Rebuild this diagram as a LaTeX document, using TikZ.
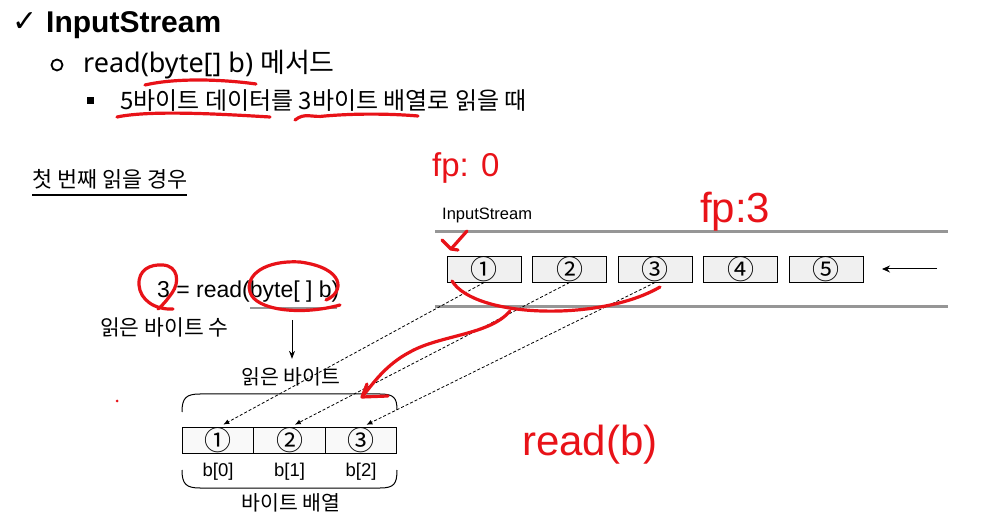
\documentclass[tikz,border=0pt]{standalone}
\usepackage{fontspec}
\setmainfont{Noto Sans}
\newfontfamily\kr{Noto Sans CJK KR}
\newfontfamily\ar{Liberation Sans}
\newfontfamily\dv{DejaVu Sans}
\usetikzlibrary{arrows.meta,positioning}
\definecolor{pen}{RGB}{232,18,24}
\definecolor{rail}{RGB}{150,150,150}
\begin{document}
\begin{tikzpicture}[x=1pt,y=-1pt,
    txt/.style={inner sep=0pt,anchor=base west},
    mid/.style={inner sep=0pt,anchor=base},
    sbox/.style={draw,line width=0.9pt,fill=gray!12,minimum width=74pt,minimum height=25pt,inner sep=0pt,font=\kr\fontsize{27}{27}\selectfont},
    cell/.style={draw,line width=0.9pt,fill=gray!5,minimum width=71.5pt,minimum height=25pt,inner sep=0pt,font=\kr\fontsize{27}{27}\selectfont},
    hand/.style={pen,line width=3.2pt,line cap=round,line join=round},
    copyline/.style={densely dashed,line width=0.8pt,-{Latex[length=6pt,width=5pt]},shorten >=6pt}]
    \useasboundingbox (0,0) rectangle (994,521);
    \node[txt,font=\dv\bfseries\fontsize{30}{30}\selectfont] (chk) at (12,32) {✓};
    \node[txt,font=\ar\bfseries\fontsize{30}{30}\selectfont] (title) at (46,33) {InputStream};
    \draw[line width=1.8pt] (57,65) circle (5.5);
    \node[txt,font=\fontsize{27}{27}\selectfont] (meth) at (83,73) {read(byte[] b) {\kr 메서드}};
    \fill (87,97) rectangle (94,104);
    \node[txt,font=\kr\fontsize{24}{24}\selectfont] (sub) at (120,110) {5바이트 데이터를 3바이트 배열로 읽을 때};
    \node[txt,font=\kr\fontsize{21.8}{22}\selectfont] (case) at (32,188) {첫 번째 읽을 경우};
    \draw[line width=1.3pt] ([yshift=-7pt]case.base west) -- ([yshift=-7pt]case.base east);
    \node[txt,font=\ar\fontsize{16.5}{17}\selectfont] (stname) at (442,220) {InputStream};
    \draw[rail,line width=3pt] (435,232) -- (948,232);
    \draw[rail,line width=3pt] (435,307) -- (948,307);
    \foreach \i/\d in {1/①,2/②,3/③,4/④,5/⑤}
        \node[sbox] (s\i) at ({398.5+85.5*\i},269.5) {\d};
    \coordinate (feedR) at (937,269);
    \coordinate (feedL) at (882,269);
    \draw[line width=1pt,-{Stealth[length=8pt,width=7pt]}] (feedR) -- (feedL);
    \node[txt,font=\ar\fontsize{23}{23}\selectfont] (call) at (157,298) {3 = read(byte[ ] b)};
    \draw[rail,line width=2.5pt] (250,308) -- (337,308);
    \node[txt,font=\kr\fontsize{21.5}{22}\selectfont] (nread) at (100,336) {읽은 바이트 수};
    \node[mid,font=\kr\fontsize{20.5}{21}\selectfont] (rbytes) at (291,385) {읽은 바이트};
    \coordinate (callarg) at (292,320);
    \draw[line width=1pt,-{Stealth[length=8pt,width=6pt]},shorten >=9pt] (callarg) -- (rbytes.north -| callarg);
    \draw[line width=1pt] (182,412) .. controls (182,398) and (186,394) .. (200,394) -- (380,394) .. controls (394,394) and (397,398) .. (397,410);
    \foreach \i/\d/\x in {1/①/218,2/②/289.5,3/③/361}
        \node[cell] (c\i) at (\x,440.5) {\d};
    \foreach \i/\x in {0/218,1/289.5,2/361}
        \node[mid,font=\ar\fontsize{18.5}{19}\selectfont] (b\i) at (\x,476) {b[\i]};
    \draw[line width=1pt] (182,470) .. controls (182,484) and (186,488) .. (200,488) -- (380,488) .. controls (394,488) and (397,484) .. (397,470);
    \node[mid,font=\kr\fontsize{20.5}{21}\selectfont] (barr) at (291,510) {바이트 배열};
    \foreach \i in {1,2,3}
        \draw[copyline] (s\i.south) -- (c\i.north);
    \node[txt,pen,font=\ar\fontsize{33}{33}\selectfont] (fp0) at (432,177) {fp: 0};
    \node[txt,pen,font=\ar\fontsize{42}{42}\selectfont] (fp3) at (700,223) {fp:3};
    \node[txt,pen,font=\ar\fontsize{42}{42}\selectfont] (readb) at (522,455) {read(b)};
    \draw[hand] (145,85) .. controls (175,78) and (220,79) .. (256,84);
    \draw[hand] (117,117) .. controls (150,110) and (220,114) .. (270,117);
    \draw[hand] (295,120) .. controls (305,112) and (312,118) .. (325,116) .. controls (360,113) and (395,114) .. (418,116);
    \draw[hand] (173,309) .. controls (155,310) and (140,300) .. (139,285) .. controls (138,270) and (150,264) .. (163,265) .. controls (178,266) and (180,282) .. (172,293) .. controls (167,300) and (162,306) .. (158,309);
    \draw[hand] (326,300) .. controls (345,292) and (345,268) .. (300,262) .. controls (265,260) and (245,275) .. (250,292) .. controls (255,310) and (300,316) .. (340,305);
    \draw[hand] (467,231) -- (451,249);
    \draw[hand] (442,240) -- (451,249) -- (458,250);
    \draw[hand] (452,281) .. controls (475,318) and (600,322) .. (660,287);
    \draw[hand] (510,311) .. controls (490,335) and (440,335) .. (410,352) .. controls (385,365) and (372,385) .. (362,397);
    \draw[hand] (367,384) -- (362,397) -- (388,396);
    \fill[pen] (117,401) circle (1.5);
\end{tikzpicture}
\end{document}
